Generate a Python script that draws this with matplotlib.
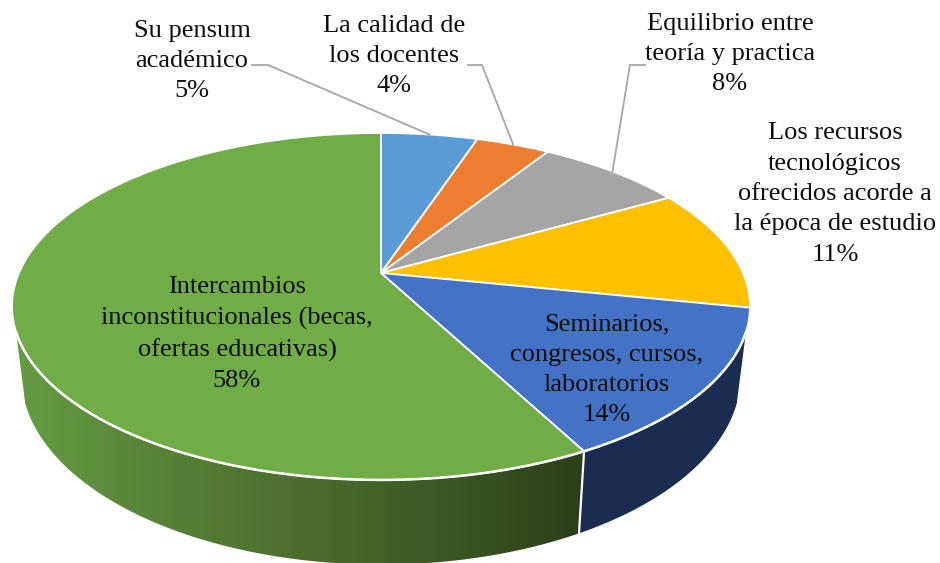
import numpy as np
import matplotlib
matplotlib.use("Agg")
import matplotlib.pyplot as plt
from matplotlib.patches import Polygon

labels = ["Su pensum\nacadémico", "La calidad de\nlos docentes", "Equilibrio entre\nteoría y practica",
          "Los recursos\ntecnológicos\nofrecidos acorde a\nla época de estudio",
          "Seminarios,\ncongresos, cursos,\nlaboratorios",
          "Intercambios\ninconstitucionales (becas,\nofertas educativas)"]
values = [5.1, 3.9, 7.8, 11.4, 14.1, 57.7]
percent_labels = ["5%", "4%", "8%", "11%", "14%", "58%"]
colors = ["#5B9BD5", "#ED7D31", "#A5A5A5", "#FFC000", "#4472C4", "#70AD47"]

# layout / style (pixels in a 940x563 canvas)
CX, CY, A, B, K = 381.0, 273.0, 362.0, 167.0, 0.193
label_pos = [(192, 61), (394, 56), (730, 54), (835, 194), (607, 370), (237, 334)]
leaders = [[(252, 65), (268, 65), None], [(468, 65), (482, 65), None], [(645, 65), (630, 65), None]]
VIS_R, VIS_L = 109.3, 250.7

def project(deg):
    t = np.radians(deg)
    X, Y = np.sin(t), np.cos(t)
    d = 1 + K * Y
    return CX + A * X / d, CY - B * Y / d

def lower(x, y):
    return CX + 0.975 * (x - CX), 339 + 1.09 * (y - CY)

fig = plt.figure(figsize=(9.40, 5.63), dpi=100)
ax = fig.add_axes([0, 0, 1, 1])
ax.set_xlim(0, 940)
ax.set_ylim(563, 0)
ax.axis("off")

edges = np.concatenate([[0], np.cumsum(values)]) / sum(values) * 360

def wall(a0, a1):
    th = np.linspace(a0, a1, 200)
    x, y = project(th)
    xb, yb = lower(x, y)
    return np.column_stack([np.r_[x, xb[::-1]], np.r_[y, yb[::-1]]])

# navy wall
ax.add_patch(Polygon(wall(VIS_R, edges[5]), closed=True, fc="#1A2C50", ec="none", zorder=1))
# green gradient wall
pts = wall(edges[5], VIS_L)
poly = Polygon(pts, closed=True, fc="none", ec="none", zorder=1)
ax.add_patch(poly)
gx = np.linspace(0, 600, 300)
stops_x = [14, 150, 320, 450, 582]
stops = np.array([[0x66, 0x9C, 0x44], [0x58, 0x84, 0x38], [0x4A, 0x6B, 0x2C], [0x3C, 0x56, 0x24], [0x2B, 0x40, 0x1A]]) / 255
grad = np.stack([np.interp(gx, stops_x, stops[:, i]) for i in range(3)], axis=-1)[None, :, :]
im = ax.imshow(grad, extent=(0, 600, 563, 300), aspect="auto", zorder=1, interpolation="bilinear")
im.set_clip_path(poly)
ax.set_xlim(0, 940)
ax.set_ylim(563, 0)

# separator on the wall
x0, y0 = project(edges[5])
x1, y1 = lower(x0, y0)
ax.plot([x0, x1], [y0, y1], color="white", lw=1.6, zorder=2)

# top wedges
for i, c in enumerate(colors):
    th = np.linspace(edges[i], edges[i + 1], 300)
    x, y = project(th)
    ax.add_patch(Polygon(np.column_stack([np.r_[CX, x], np.r_[CY, y]]), closed=True,
                         fc=c, ec="white", lw=1.3, zorder=3, joinstyle="round"))

# bright rim where the top meets the wall
th = np.linspace(VIS_R, VIS_L, 400)
ax.plot(*project(th), color="white", lw=1.8, zorder=4)

# leaders
for i, lead in enumerate(leaders):
    mid = (edges[i] + edges[i + 1]) / 2
    ex, ey = project(mid)
    xs = [lead[0][0], lead[1][0], ex]
    ys = [lead[0][1], lead[1][1], ey]
    ax.plot(xs, ys, color="#A6A6A6", lw=1.3, zorder=5, solid_joinstyle="miter")

# labels
for lab, pct, (lx, ly) in zip(labels, percent_labels, label_pos):
    ax.text(lx, ly, f"{lab}\n{pct}", ha="center", va="center", multialignment="center",
            family="Liberation Serif", fontsize=19, color="#0D0D0D", linespacing=1.49, zorder=6)

fig.savefig("out.png", dpi=100)
